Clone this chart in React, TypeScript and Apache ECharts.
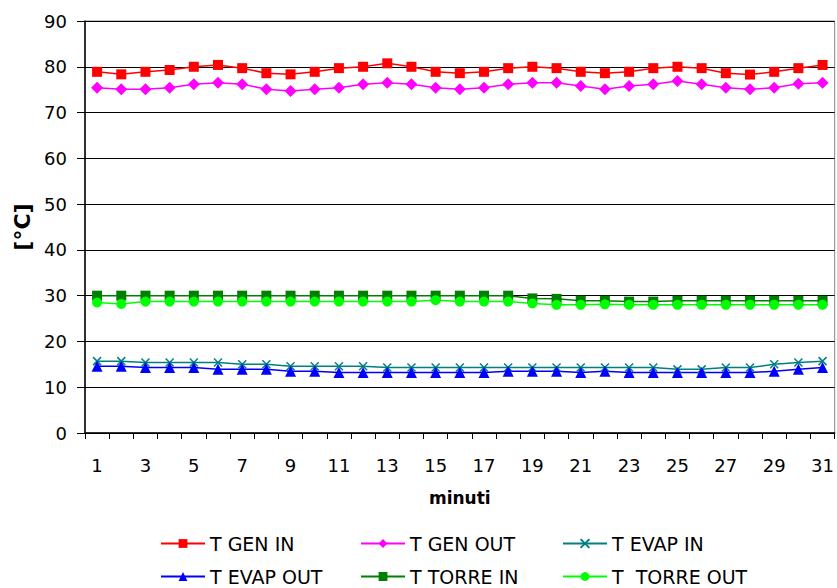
import React, { useEffect, useRef } from "react";
import * as echarts from "echarts";

const minutes = Array.from({ length: 31 }, (_, i) => String(i + 1));

const tGenIn = [78.9, 78.35, 78.9, 79.3, 80.0, 80.4, 79.7, 78.6, 78.35, 78.9, 79.7, 80.0, 80.75, 80.0, 78.9, 78.6, 78.9, 79.7, 80.0, 79.7, 78.9, 78.6, 78.9, 79.7, 80.0, 79.7, 78.6, 78.3, 78.9, 79.7, 80.4];
const tGenOut = [75.4, 75.1, 75.1, 75.4, 76.2, 76.5, 76.2, 75.1, 74.7, 75.1, 75.4, 76.2, 76.5, 76.2, 75.4, 75.1, 75.4, 76.2, 76.5, 76.5, 75.8, 75.1, 75.8, 76.2, 76.9, 76.2, 75.4, 75.1, 75.4, 76.3, 76.5];
const tEvapIn = [15.7, 15.7, 15.4, 15.4, 15.4, 15.4, 15.0, 15.0, 14.6, 14.6, 14.6, 14.6, 14.3, 14.3, 14.3, 14.3, 14.3, 14.3, 14.3, 14.3, 14.3, 14.3, 14.3, 14.3, 13.9, 13.9, 14.3, 14.3, 15.0, 15.4, 15.7];
const tEvapOut = [14.6, 14.6, 14.3, 14.3, 14.3, 13.9, 13.9, 13.9, 13.5, 13.5, 13.2, 13.2, 13.2, 13.2, 13.2, 13.2, 13.2, 13.5, 13.5, 13.5, 13.2, 13.5, 13.2, 13.2, 13.2, 13.2, 13.2, 13.2, 13.5, 13.9, 14.3];
const tTorreIn = [30.0, 30.0, 30.0, 30.0, 30.0, 30.0, 30.0, 30.0, 30.0, 30.0, 30.0, 30.0, 30.0, 30.0, 30.0, 30.0, 30.0, 30.0, 29.4, 29.3, 28.9, 28.9, 28.7, 28.7, 28.9, 28.9, 28.9, 28.9, 28.9, 28.9, 28.9];
const tTorreOut = [28.5, 28.2, 28.7, 28.7, 28.7, 28.7, 28.7, 28.7, 28.7, 28.7, 28.7, 28.7, 28.7, 28.7, 29.0, 28.7, 28.7, 28.7, 28.3, 28.0, 28.0, 28.1, 28.0, 28.0, 28.0, 28.0, 28.0, 28.0, 28.0, 28.0, 28.0];

const seriesNames = ["T GEN IN", "T GEN OUT", "T EVAP IN", "T EVAP OUT", "T TORRE IN", "T  TORRE OUT"];

const FONT = "DejaVu Sans, Verdana, sans-serif";
const X_PATH = "path://M0,0 L10,10 M10,0 L0,10";

export default function App() {
  const ref = useRef<HTMLDivElement>(null);
  useEffect(() => {
    if (!ref.current) return;
    const chart = echarts.init(ref.current, null, { renderer: "svg" });
    const mk = (name: string, data: number[], color: string, symbol: string, symbolSize: number) => ({
      name,
      type: "line",
      data,
      symbol,
      symbolSize,
      showSymbol: true,
      lineStyle: { color, width: 1.5 },
      itemStyle: { color },
      emphasis: { disabled: true },
    });
    const legendPos = [
      { left: 160, top: 534 },
      { left: 360, top: 534 },
      { left: 562, top: 534 },
      { left: 160, top: 567 },
      { left: 360, top: 567 },
      { left: 562, top: 567 },
    ];
    chart.setOption({
      animation: false,
      textStyle: { fontFamily: FONT },
      grid: {
        left: 85,
        right: 2,
        top: 21,
        bottom: 155,
        show: true,
        borderColor: "#888",
        borderWidth: 1,
      },
      legend: seriesNames.map((n, i) => ({
        data: [n],
        left: legendPos[i].left,
        top: legendPos[i].top,
        padding: 0,
        itemWidth: 44,
        itemHeight: 11,
        textStyle: { fontFamily: FONT, fontSize: 19, color: "#000" },
        selectedMode: false,
      })),
      xAxis: {
        type: "category",
        data: minutes,
        boundaryGap: true,
        name: "minuti",
        nameLocation: "middle",
        nameGap: 56,
        nameTextStyle: { fontFamily: FONT, fontSize: 17, fontWeight: "bold", color: "#000" },
        axisLine: { lineStyle: { color: "#000", width: 1.5 } },
        axisTick: { show: true, interval: 0, length: 6, lineStyle: { color: "#000" } },
        axisLabel: { interval: 1, margin: 23, fontSize: 18, color: "#000", fontFamily: FONT },
        splitLine: { show: false },
      },
      yAxis: {
        type: "value",
        min: 0,
        max: 90,
        interval: 10,
        name: "[°C]",
        nameLocation: "middle",
        nameGap: 51,
        nameTextStyle: { fontFamily: FONT, fontSize: 22, fontWeight: "bold", color: "#000" },
        axisLine: { show: true, lineStyle: { color: "#000", width: 1.5 } },
        axisTick: { show: true, length: 8, lineStyle: { color: "#000" } },
        axisLabel: { margin: 18, fontSize: 18, color: "#000", fontFamily: FONT },
        splitLine: { show: true, lineStyle: { color: "#000", width: 1 } },
      },
      series: [
        mk(seriesNames[0], tGenIn, "#FF0000", "rect", 10),
        mk(seriesNames[1], tGenOut, "#FF00FF", "diamond", 12),
        {
          ...mk(seriesNames[2], tEvapIn, "#008080", X_PATH, 8),
          itemStyle: { color: "#008080", borderColor: "#008080", borderWidth: 1.5 },
        },
        mk(seriesNames[3], tEvapOut, "#0000FF", "triangle", 11),
        mk(seriesNames[4], tTorreIn, "#008000", "rect", 10),
        mk(seriesNames[5], tTorreOut, "#00FF00", "circle", 10),
      ],
    });
    return () => chart.dispose();
  }, []);
  return (
    <div
      ref={ref}
      style={{ position: "absolute", left: 0, top: 0, width: 837, height: 588, background: "#fff" }}
    />
  );
}
